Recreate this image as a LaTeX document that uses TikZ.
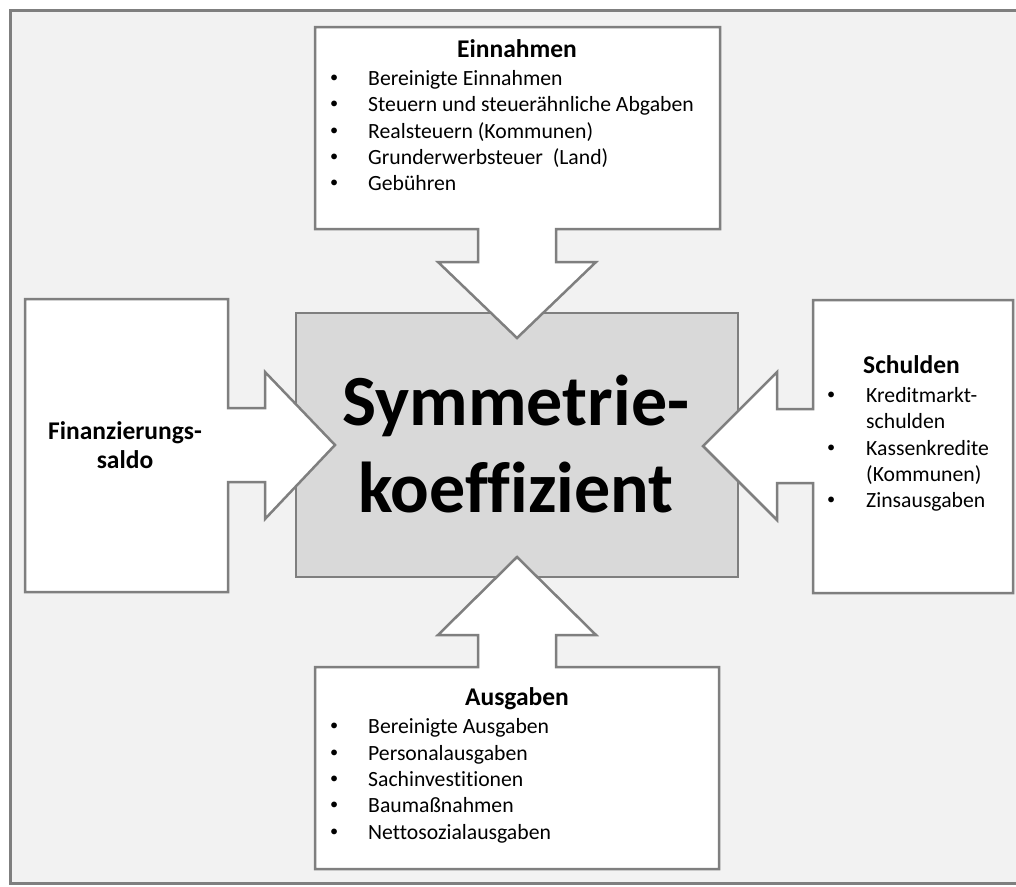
\documentclass[tikz,border=0pt]{standalone}
\usepackage{fontspec}
\setmainfont{Carlito}[Ligatures={NoCommon}]
\usepackage{graphicx}
\usepackage{tikz}
\usetikzlibrary{positioning}

\definecolor{paneGray}{HTML}{F2F2F2}
\definecolor{lineGray}{HTML}{7F7F7F}
\definecolor{coreGray}{HTML}{D9D9D9}

\newcommand{\dotmark}{\raisebox{2.5pt}{\scalebox{0.75}{\textbullet}}}
\newcommand{\bul}{\makebox[38pt][l]{\dotmark}}

\begin{document}
\begin{tikzpicture}[x=1pt, y=-1pt, line join=miter]
\tikzstyle{callout}=[draw=lineGray, fill=white, line width=2.5pt]
\tikzstyle{core}=[draw=lineGray, fill=coreGray, line width=2.5pt]
\tikzstyle{head}=[inner sep=0pt, anchor=base, font=\fontsize{25.5}{29}\selectfont\bfseries]
\tikzstyle{item}=[inner sep=0pt, anchor=base west, font=\fontsize{21.7}{26}\selectfont]
\tikzstyle{big}=[inner sep=0pt, anchor=base, font=\fontsize{72}{87}\selectfont\bfseries]

\useasboundingbox (0,0) rectangle (1016,886);

% frame
\fill[paneGray] (10,10) rectangle (1016,883);
\draw[lineGray, line width=3pt] (1016,10) -- (10,10) -- (10,883) -- (1016,883);

% centre box
\draw[core] (296,313) rectangle (738,577);

% callouts
\draw[callout] (315,27) -- (720,27) -- (720,229) -- (556,229) -- (556,262) -- (596,262)
  -- (517,338) -- (438,262) -- (478,262) -- (478,229) -- (315,229) -- cycle;
\draw[callout] (315,869) -- (719,869) -- (719,667) -- (556,667) -- (556,635) -- (596,635)
  -- (517,557) -- (438,635) -- (478,635) -- (478,667) -- (315,667) -- cycle;
\draw[callout] (25,299) -- (228,299) -- (228,408) -- (265,408) -- (265,372) -- (335,445)
  -- (265,519) -- (265,482) -- (228,482) -- (228,592) -- (25,592) -- cycle;
\draw[callout] (1013,300) -- (813,300) -- (813,409) -- (777,409) -- (777,372) -- (703,446)
  -- (777,520) -- (777,483) -- (813,483) -- (813,593) -- (1013,593) -- cycle;

% texts
\node[big] (K1) at (516,425) {Symmetrie-};
\node[big] (K2) at (516,512) {koeffizient};

\node[head] (E) at (517,57) {Einnahmen};
\node[item] (E1) at (330,85) {\bul Bereinigte Einnahmen};
\node[item] (E2) at (330,111) {\bul Steuern und steuerähnliche Abgaben};
\node[item] (E3) at (330,138) {\bul Realsteuern (Kommunen)};
\node[item] (E4) at (330,164) {\bul Grunderwerbsteuer\ \ (Land)};
\node[item] (E5) at (330,190) {\bul Gebühren};

\node[head] (F1) at (125,439) {Finanzierungs-};
\node[head] (F2) at (125,468) {saldo};

\node[head, anchor=base west] (S) at (863,373) {Schulden};
\node[item] (S1) at (827,402) {\makebox[39pt][l]{\dotmark}Kreditmarkt-};
\node[item] (S2) at (866,428) {schulden};
\node[item] (S3) at (827,455) {\makebox[39pt][l]{\dotmark}Kassenkredite};
\node[item] (S4) at (866,481) {(Kommunen)};
\node[item] (S5) at (827,507) {\makebox[39pt][l]{\dotmark}Zinsausgaben};

\node[head] (A) at (517,705) {Ausgaben};
\node[item] (A1) at (330,733) {\bul Bereinigte Ausgaben};
\node[item] (A2) at (330,760) {\bul Personalausgaben};
\node[item] (A3) at (330,786) {\bul Sachinvestitionen};
\node[item] (A4) at (330,812) {\bul Baumaßnahmen};
\node[item] (A5) at (330,839) {\bul Nettosozialausgaben};

\end{tikzpicture}
\end{document}
